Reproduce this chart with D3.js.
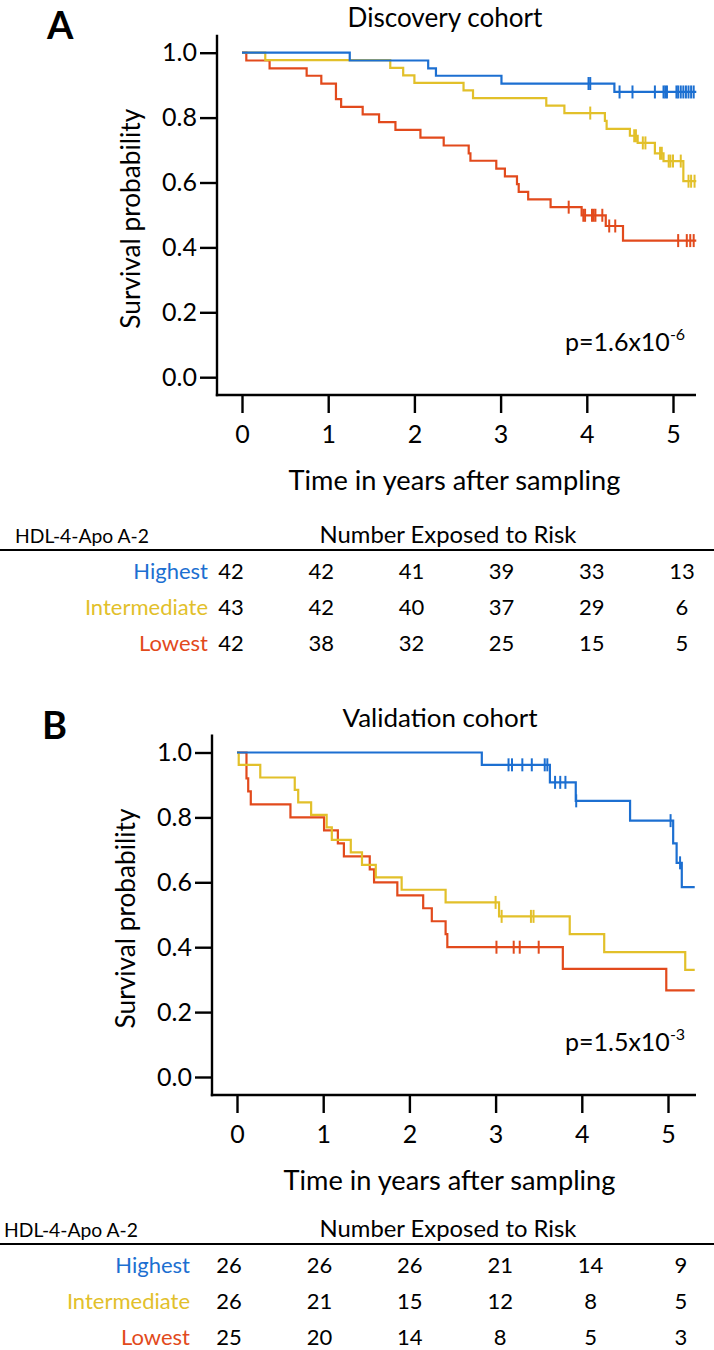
<!DOCTYPE html>
<html><head><meta charset="utf-8">
<script src="https://cdn.jsdelivr.net/npm/d3@7"></script>
<style>
body{margin:0;background:#fff}
svg{display:block}
text{font-family:Lato,"Open Sans",sans-serif;fill:#000}
</style>
</head><body>
<svg id="chart" width="714" height="1350"></svg>
<script>
// ---------------- DATA ----------------
const groups = ["Highest", "Intermediate", "Lowest"];
const timeTicks = [0, 1, 2, 3, 4, 5];
const survTicks = [0, 0.2, 0.4, 0.6, 0.8, 1.0];
const survTickLabels = ["0.0", "0.2", "0.4", "0.6", "0.8", "1.0"];
const xAxisTitle = "Time in years after sampling";
const yAxisTitle = "Survival probability";
const tableHeader = "HDL-4-Apo A-2";
const tableTitle = "Number Exposed to Risk";

// Discovery cohort (panel A)
const discTitle = "Discovery cohort";
const discPText = "p=1.6x10";
const discPExp = "-6";
const discEnd = 5.27;
const discHighSteps = [[0,1],[1.25,0.976],[2.16,0.952],[2.25,0.929],[3.01,0.905],[4.32,0.879]];
const discHighCensor = [4.02,4.04,4.38,4.53,4.79,4.89,4.91,4.93,5.04,5.06,5.09,5.12,5.15,5.18,5.21,5.24];
const discInterSteps = [[0,1],[0.27,0.977],[1.72,0.953],[1.87,0.930],[2.0,0.907],[2.57,0.884],[2.68,0.860],[3.53,0.837],[3.74,0.814],[4.21,0.790],[4.23,0.765],[4.50,0.744],[4.59,0.722],[4.79,0.690],[4.89,0.666],[5.12,0.604]];
const discInterCensor = [4.04,4.55,4.57,4.65,4.68,4.85,4.87,4.95,4.97,5.0,5.09,5.18,5.21,5.25];
const discLowSteps = [[0,1],[0.05,0.976],[0.32,0.952],[0.75,0.929],[0.92,0.905],[1.09,0.857],[1.15,0.833],[1.40,0.810],[1.59,0.786],[1.78,0.762],[2.07,0.738],[2.34,0.714],[2.63,0.690],[2.65,0.667],[2.95,0.643],[3.05,0.619],[3.19,0.595],[3.21,0.571],[3.32,0.548],[3.58,0.524],[3.94,0.499],[4.22,0.466],[4.42,0.421]];
const discLowCensor = [3.79,3.96,3.98,4.06,4.08,4.10,4.18,4.26,4.33,5.06,5.16,5.20,5.24];
const discAtRiskHigh = [42,42,41,39,33,13];
const discAtRiskInter = [43,42,40,37,29,6];
const discAtRiskLow = [42,38,32,25,15,5];

// Validation cohort (panel B)
const valTitle = "Validation cohort";
const valPText = "p=1.5x10";
const valPExp = "-3";
const valEnd = 5.31;
const valHighSteps = [[0,1],[2.84,0.962],[3.63,0.908],[3.93,0.851],[4.56,0.790],[5.06,0.720],[5.10,0.660],[5.16,0.585]];
const valHighCensor = [3.15,3.19,3.31,3.42,3.57,3.60,3.69,3.75,3.81,3.935,5.03,5.14];
const valInterSteps = [[0,1],[0.02,0.962],[0.27,0.923],[0.67,0.885],[0.71,0.846],[0.86,0.808],[1.04,0.769],[1.10,0.731],[1.32,0.692],[1.45,0.654],[1.61,0.615],[1.91,0.577],[2.42,0.538],[3.04,0.495],[3.86,0.440],[4.26,0.385],[5.20,0.330]];
const valInterCensor = [3.00,3.07,3.41,3.44];
const valLowSteps = [[0,1],[0.11,0.92],[0.13,0.88],[0.16,0.84],[0.62,0.80],[1.01,0.76],[1.17,0.72],[1.24,0.68],[1.54,0.64],[1.59,0.60],[1.86,0.56],[2.16,0.52],[2.26,0.48],[2.42,0.44],[2.44,0.40],[3.78,0.333],[4.98,0.267]];
const valLowCensor = [3.01,3.21,3.28,3.50];
const valAtRiskHigh = [26,26,26,21,14,9];
const valAtRiskInter = [26,21,15,12,8,5];
const valAtRiskLow = [25,20,14,8,5,3];

// ---------------- STYLE ----------------
const groupColors = ["#1c6fd1", "#e2c02a", "#e24a1c"];

const svg = d3.select("#chart");

function fitWidth(sel, w) {
  const cur = sel.node().getComputedTextLength();
  const fs = parseFloat(sel.attr("font-size"));
  sel.attr("font-size", fs * w / cur);
}

function levelAt(steps, t) {
  let s = steps[0][1];
  for (const st of steps) { if (st[0] <= t) s = st[1]; }
  return s;
}

function drawPanel(cfg) {
  const g = svg.append("g");
  const x = d3.scaleLinear().domain([0, 5]).range([cfg.x0, cfg.x0 + 5 * 86.2]);
  const y = d3.scaleLinear().domain([0, 1]).range([cfg.y0 + 324.5, cfg.y0]);

  // panel letter
  g.append("text").attr("x", cfg.letterX).attr("y", cfg.y0 - 14)
    .attr("font-size", 38).attr("font-weight", "bold").text(cfg.letter);

  // title
  const t = g.append("text").attr("x", cfg.x0 + 203).attr("y", cfg.y0 - 25.5)
    .attr("text-anchor", "middle").attr("font-size", 25).text(cfg.title);
  fitWidth(t, 195);

  // y axis
  const yAxis = d3.axisLeft(y).tickValues(survTicks)
    .tickFormat((d, i) => survTickLabels[i]).tickSize(17).tickPadding(3).tickSizeOuter(0);
  const ya = g.append("g").attr("transform", `translate(${cfg.axX},0)`).call(yAxis);
  ya.select(".domain").remove();
  ya.selectAll(".tick line").attr("stroke", "#000").attr("stroke-width", 2.4);
  ya.selectAll(".tick text").attr("font-size", 25).attr("font-family", "Lato").attr("fill", "#000");
  g.append("line").attr("x1", cfg.axX).attr("x2", cfg.axX)
    .attr("y1", cfg.y0 - 18).attr("y2", cfg.axY + 1.2)
    .attr("stroke", "#000").attr("stroke-width", 2.4);

  // x axis
  const xAxis = d3.axisBottom(x).tickValues(timeTicks).tickFormat(d3.format("d"))
    .tickSize(18).tickPadding(12).tickSizeOuter(0);
  const xa = g.append("g").attr("transform", `translate(0,${cfg.axY})`).call(xAxis);
  xa.select(".domain").remove();
  xa.selectAll(".tick line").attr("stroke", "#000").attr("stroke-width", 2.4);
  xa.selectAll(".tick text").attr("font-size", 25).attr("font-family", "Lato").attr("fill", "#000");
  g.append("line").attr("x1", cfg.axX - 1.2).attr("x2", 696)
    .attr("y1", cfg.axY).attr("y2", cfg.axY)
    .attr("stroke", "#000").attr("stroke-width", 2.4);

  // axis titles
  const xt = g.append("text").attr("x", cfg.x0 + 212.5).attr("y", cfg.y0 + 437)
    .attr("text-anchor", "middle").attr("font-size", 26).text(xAxisTitle);
  fitWidth(xt, 332);
  const yt = g.append("text")
    .attr("transform", `translate(${cfg.axX - 77},${cfg.y0 + 166}) rotate(-90)`)
    .attr("text-anchor", "middle").attr("font-size", 26).text(yAxisTitle);
  fitWidth(yt, 220);

  // curves
  const line = d3.line().x(d => x(d[0])).y(d => y(d[1])).curve(d3.curveStepAfter);
  const order = [2, 1, 0];
  order.forEach(i => {
    const steps = cfg.steps[i];
    const pts = steps.concat([[cfg.end, steps[steps.length - 1][1]]]);
    g.append("path").attr("d", line(pts)).attr("fill", "none")
      .attr("stroke", groupColors[i]).attr("stroke-width", 2.2);
    g.selectAll(null).data(cfg.censor[i]).enter().append("line")
      .attr("x1", d => x(d)).attr("x2", d => x(d))
      .attr("y1", d => y(levelAt(steps, d)) - 6.5)
      .attr("y2", d => y(levelAt(steps, d)) + 6.5)
      .attr("stroke", groupColors[i]).attr("stroke-width", 2);
  });

  // p-value
  const pt = g.append("text").attr("x", cfg.pX).attr("y", cfg.y0 + 298).attr("font-size", 25);
  pt.append("tspan").text(cfg.pText);
  pt.append("tspan").attr("font-size", 16).attr("dy", -11).text(cfg.pExp);

  // risk table
  const ty = cfg.tableY;
  const hd = g.append("text").attr("x", cfg.hdrX).attr("y", ty).attr("font-size", 21).text(tableHeader);
  fitWidth(hd, 134);
  const tt = g.append("text").attr("x", 448).attr("y", ty)
    .attr("text-anchor", "middle").attr("font-size", 22).text(tableTitle);
  fitWidth(tt, 257);
  g.append("line").attr("x1", 0).attr("x2", 714).attr("y1", ty + 7).attr("y2", ty + 7)
    .attr("stroke", "#000").attr("stroke-width", 2);
  const col = d3.scalePoint().domain(timeTicks).range([cfg.colStart, cfg.colEnd]);
  groups.forEach((name, i) => {
    const ry = ty + 36.3 + i * 35.7;
    g.append("text").attr("x", cfg.rowLabelX).attr("y", ry).attr("text-anchor", "end")
      .attr("font-size", 22).style("fill", groupColors[i]).text(name);
    g.selectAll(null).data(cfg.atRisk[i]).enter().append("text")
      .attr("x", (d, j) => col(timeTicks[j])).attr("y", ry)
      .attr("text-anchor", "middle").attr("font-size", 22).text(d => d);
  });
}

drawPanel({
  letter: "A", letterX: 47, title: discTitle,
  x0: 242, y0: 52.7, axX: 217, axY: 395, end: discEnd,
  steps: [discHighSteps, discInterSteps, discLowSteps],
  censor: [discHighCensor, discInterCensor, discLowCensor],
  pText: discPText, pExp: discPExp, pX: 565,
  tableY: 543, hdrX: 15, rowLabelX: 208, colStart: 231, colEnd: 682,
  atRisk: [discAtRiskHigh, discAtRiskInter, discAtRiskLow]
});

drawPanel({
  letter: "B", letterX: 42, title: valTitle,
  x0: 237, y0: 752.5, axX: 212, axY: 1095, end: valEnd,
  steps: [valHighSteps, valInterSteps, valLowSteps],
  censor: [valHighCensor, valInterCensor, valLowCensor],
  pText: valPText, pExp: valPExp, pX: 565,
  tableY: 1237, hdrX: 4, rowLabelX: 190, colStart: 229, colEnd: 681,
  atRisk: [valAtRiskHigh, valAtRiskInter, valAtRiskLow]
});
</script>
</body></html>
